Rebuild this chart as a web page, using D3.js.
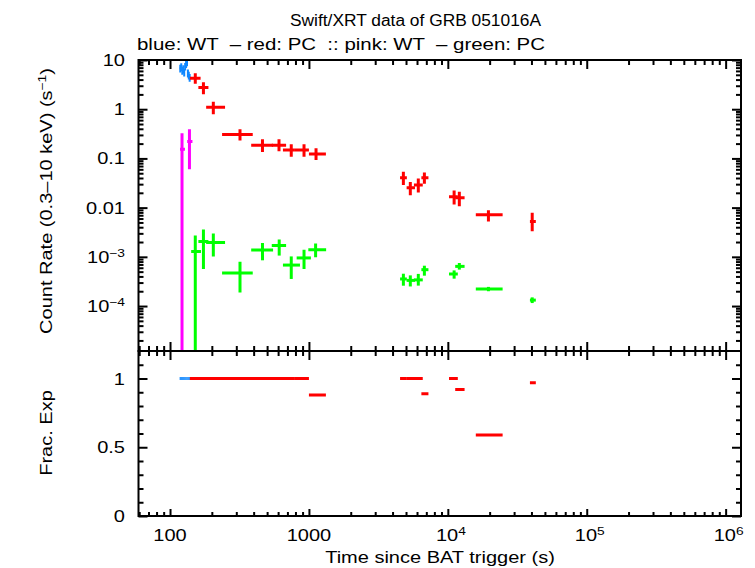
<!DOCTYPE html>
<html><head><meta charset="utf-8">
<script src="https://cdn.jsdelivr.net/npm/d3@7"></script>
<style>
body{margin:0;background:#fff}
text{font-family:"Liberation Sans",Arial,Helvetica,sans-serif;fill:#000}
</style>
</head><body>
<svg id="chart" width="755" height="568"></svg>
<script>
// ---------------- data ----------------
// Blue: WT (count rate)
const blueT   = [118.5,120.5,122.5,124.5,126.5,128.5,130.5,132.5,134.5,136.5,138.5];
const blueTlo = [117.3,119.4,121.4,123.4,125.4,127.4,129.4,131.4,133.4,135.4,137.4];
const blueThi = [119.6,121.6,123.6,125.6,127.6,129.6,131.6,133.6,135.6,137.6,139.8];
const blueR   = [6.8,7.3,6.1,6.6,5.6,7.4,8.3,9.0,5.4,4.9,4.4];
const blueRlo = [5.6,6.0,5.0,5.4,4.6,6.1,6.9,7.5,4.4,4.0,3.6];
const blueRhi = [8.0,8.6,7.2,7.8,6.6,8.7,9.7,10.5,6.4,5.8,5.2];
const blueFrac= [1,1,1,1,1,1,1,1,1,1,1];

// Red: PC (count rate)
const redT    = [152,174,205,319,463,609,746,922,1125,4786,5370,6130,6780,11100,12100,19600,40500];
const redTlo  = [139,160,182,237,384,540,650,793,1000,4530,5050,5700,6450,10200,11300,15900,39000];
const redThi  = [166,189,249,394,552,685,793,1000,1325,5070,5800,6600,7250,11800,13200,24800,43000];
const redR    = [4.24,2.77,1.09,0.305,0.185,0.185,0.148,0.148,0.123,0.0405,0.0254,0.0287,0.0405,0.0166,0.0159,0.00715,0.00522];
const redRlo  = [3.3,2.02,0.79,0.23,0.135,0.14,0.108,0.108,0.093,0.0287,0.0179,0.0204,0.0306,0.0116,0.0107,0.0052,0.00331];
const redRhi  = [5.4,3.51,1.41,0.39,0.245,0.245,0.194,0.194,0.16,0.0538,0.033,0.0393,0.0518,0.0224,0.021,0.0088,0.00785];
const redFrac = [1,1,1,1,1,1,1,1,0.88,1,1,1,0.89,1,0.92,0.59,0.97];

// Pink: WT
const pinkT   = [122,138];
const pinkTlo = [118,133];
const pinkThi = [128,145];
const pinkR   = [0.153,0.22];
const pinkRlo = [1e-7,0.06];
const pinkRhi = [0.325,0.39];

// Green: PC
const greenT   = [152,174,205,319,463,611,746,922,1117,4786,5370,6130,6780,11100,12100,19600,40500];
const greenTlo = [142,160,182,237,384,540,650,816,990,4530,5050,5700,6450,10200,11300,15900,39000];
const greenThi = [167,189,249,394,552,685,862,1033,1330,5070,5800,6600,7250,11800,13200,24800,43000];
const greenR   = [1.28e-3,2.04e-3,1.95e-3,4.7e-4,1.38e-3,1.69e-3,6.8e-4,9.5e-4,1.40e-3,3.55e-4,3.32e-4,3.4e-4,5.48e-4,4.48e-4,6.4e-4,2.22e-4,1.32e-4];
const greenRlo = [1e-7,5.66e-4,1.02e-3,1.89e-4,8.5e-4,1.06e-3,3.55e-4,5.66e-4,9.8e-4,2.59e-4,2.5e-4,2.6e-4,4.14e-4,3.6e-4,5.5e-4,2.0e-4,1.15e-4];
const greenRhi = [2.7e-3,3.59e-3,2.97e-3,7.98e-4,1.92e-3,2.24e-3,1.02e-3,1.40e-3,1.86e-3,4.54e-4,4.2e-4,4.5e-4,6.6e-4,5.3e-4,7.5e-4,2.45e-4,1.5e-4];

// ticks
const xMajor = [100,1000,1e4,1e5,1e6];
const xMajorLabels = [["100",""],["1000",""],["10","4"],["10","5"],["10","6"]];
const yTopMajor = [1e-4,1e-3,0.01,0.1,1,10];
const yTopLabels = [["10","−4"],["10","−3"],["0.01",""],["0.1",""],["1",""],["10",""]];
const yBotMajor = [0,0.5,1];
const yBotLabels = ["0","0.5","1"];
const yBotMinor = [0.1,0.2,0.3,0.4,0.6,0.7,0.8,0.9,1.1];

const title = "Swift/XRT data of GRB 051016A";
const subtitle = "blue: WT  – red: PC  :: pink: WT  – green: PC";

// ---------------- layout ----------------
const L=138.5, R=741, T=60, M=351, B=516;
const svg = d3.select("#chart");
const x = d3.scaleLog().domain([59.3,1.29e6]).range([L,R]);
const yT = d3.scaleLog().domain([1.22e-5,10]).range([M,T]);
const yB = d3.scaleLinear().domain([0,1.2]).range([B,M]);

const isDecade = v => Math.abs(Math.log10(v)-Math.round(Math.log10(v)))<1e-6;
const xMinor = x.ticks(40).filter(v=>!isDecade(v));
const yTopMinor = yT.ticks(40).filter(v=>!isDecade(v));

const defs = svg.append("defs");
defs.append("clipPath").attr("id","clipT").append("rect").attr("x",L).attr("y",T).attr("width",R-L).attr("height",M-T);
defs.append("clipPath").attr("id","clipB").append("rect").attr("x",L).attr("y",M).attr("width",R-L).attr("height",B-M);

const COL = {blue:"#0f87ff", red:"#ff0000", pink:"#ff00ff", green:"#00ff00"};

// ---------- axes (ticks) ----------
function tickAxis(gen, scale, vals, size, tx, ty){
  const g = svg.append("g").attr("transform",`translate(${tx},${ty})`)
    .call(gen(scale).tickValues(vals).tickSize(size).tickFormat(""));
  g.select(".domain").remove();
  g.selectAll("line").attr("stroke","#000").attr("stroke-width",2);
  return g;
}
const MJ=9, MN=5;
tickAxis(d3.axisBottom, x, xMajor, -MJ, 0, M);
tickAxis(d3.axisBottom, x, xMinor, -MN, 0, M);
tickAxis(d3.axisTop, x, xMajor, -MJ, 0, T);
tickAxis(d3.axisTop, x, xMinor, -MN, 0, T);
tickAxis(d3.axisLeft, yT, yTopMajor, -MJ, L, 0);
tickAxis(d3.axisLeft, yT, yTopMinor, -MN, L, 0);
tickAxis(d3.axisRight, yT, yTopMajor, -MJ, R, 0);
tickAxis(d3.axisRight, yT, yTopMinor, -MN, R, 0);
tickAxis(d3.axisTop, x, xMajor, -MJ, 0, M);
tickAxis(d3.axisTop, x, xMinor, -MN, 0, M);
tickAxis(d3.axisBottom, x, xMajor, -7, 0, B);
tickAxis(d3.axisBottom, x, xMinor, -4, 0, B);
tickAxis(d3.axisLeft, yB, yBotMajor, -MJ, L, 0);
tickAxis(d3.axisLeft, yB, yBotMinor, -MN, L, 0);
tickAxis(d3.axisRight, yB, yBotMajor, -MJ, R, 0);
tickAxis(d3.axisRight, yB, yBotMinor, -MN, R, 0);

// ---------- data marks ----------
function errSeries(clip, ys, T_, Tlo, Thi, V, Vlo, Vhi, color, w){
  const g = svg.append("g").attr("clip-path",`url(#${clip})`)
    .attr("stroke",color).attr("stroke-width",w).attr("fill","none");
  T_.forEach((t,i)=>{
    g.append("line").attr("x1",x(Tlo[i])).attr("x2",x(Thi[i])).attr("y1",ys(V[i])).attr("y2",ys(V[i]));
    if(Vlo) g.append("line").attr("x1",x(t)).attr("x2",x(t)).attr("y1",ys(Vlo[i])).attr("y2",ys(Vhi[i]));
  });
}
errSeries("clipT", yT, blueT, blueTlo, blueThi, blueR, blueRlo, blueRhi, COL.blue, 2);
errSeries("clipT", yT, redT, redTlo, redThi, redR, redRlo, redRhi, COL.red, 3);
errSeries("clipT", yT, pinkT, pinkTlo, pinkThi, pinkR, pinkRlo, pinkRhi, COL.pink, 3);
errSeries("clipT", yT, greenT, greenTlo, greenThi, greenR, greenRlo, greenRhi, COL.green, 3);
errSeries("clipB", yB, blueT, blueTlo, blueThi, blueFrac, null, null, COL.blue, 3);
errSeries("clipB", yB, redT, redTlo, redThi, redFrac, null, null, COL.red, 3);

// ---------- frames ----------
svg.append("rect").attr("x",L).attr("y",T).attr("width",R-L).attr("height",M-T)
  .attr("fill","none").attr("stroke","#000").attr("stroke-width",2);
svg.append("rect").attr("x",L).attr("y",M).attr("width",R-L).attr("height",B-M)
  .attr("fill","none").attr("stroke","#000").attr("stroke-width",2);

// ---------- labels ----------
const FS = 16, SX = 1.25;
function label(px, py, anchor, rot){
  const g = svg.append("g").attr("transform",`translate(${px},${py}) rotate(${rot||0}) scale(${SX},1)`);
  return g.append("text").attr("x",0).attr("y",0).attr("text-anchor",anchor).attr("font-size",FS);
}
function supText(sel, base, sup){
  sel.append("tspan").text(base);
  if(sup) sel.append("tspan").attr("dy",-6).attr("font-size",11).text(sup);
}
xMajor.forEach((v,i)=>{
  const t = label(x(v)+(xMajorLabels[i][1]?3:0), 541, "middle");
  supText(t, xMajorLabels[i][0], xMajorLabels[i][1]);
});
yTopMajor.forEach((v,i)=>{
  const t = label(125, yT(v)+6, "end");
  supText(t, yTopLabels[i][0], yTopLabels[i][1]);
});
yBotMajor.forEach((v,i)=>{
  label(125, yB(v)+6, "end").text(yBotLabels[i]);
});

svg.append("text").attr("x",415.5).attr("y",26).attr("text-anchor","middle").attr("font-size",FS)
  .attr("textLength",251).attr("lengthAdjust","spacingAndGlyphs").text(title);
svg.append("text").attr("x",137).attr("y",50).attr("font-size",FS).style("white-space","pre")
  .attr("textLength",408).attr("lengthAdjust","spacingAndGlyphs").text(subtitle);

const yl = label(52, 201, "middle", -90);
yl.append("tspan").text("Count Rate (0.3–10 keV) (s");
yl.append("tspan").attr("dy",-6).attr("font-size",11).text("−1");
yl.append("tspan").attr("dy",6).text(")");

label(52, 433, "middle", -90).text("Frac. Exp");
label(440, 563, "middle").text("Time since BAT trigger (s)");
</script>
</body></html>
